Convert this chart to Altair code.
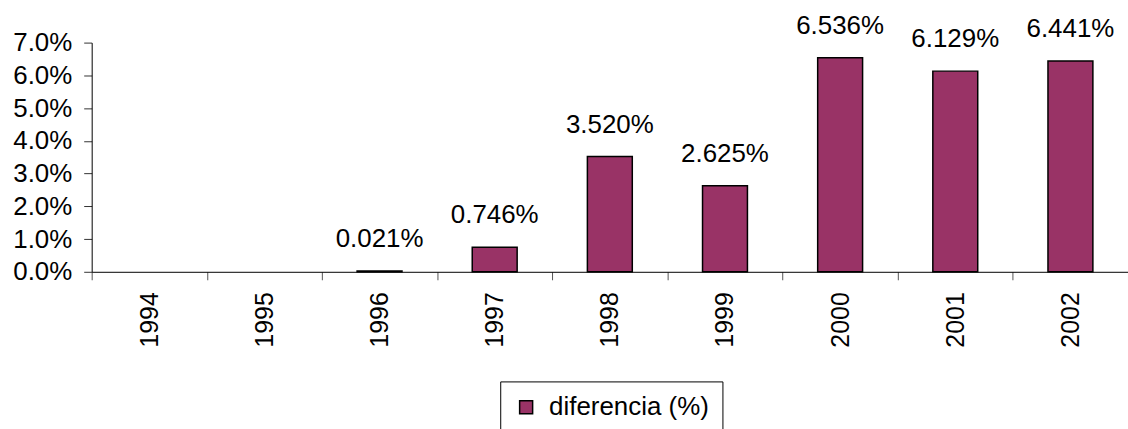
import altair as alt
import pandas as pd

years = ["1994", "1995", "1996", "1997", "1998", "1999", "2000", "2001", "2002"]
values = [None, None, 0.00021, 0.00746, 0.03520, 0.02625, 0.06536, 0.06129, 0.06441]
series = "diferencia (%)"
y_ticks = [0.0, 0.01, 0.02, 0.03, 0.04, 0.05, 0.06, 0.07]

df = pd.DataFrame({"year": years, "value": values, "serie": [series] * len(years)})

FONT = "Liberation Sans"

x_enc = alt.X(
    "year:N",
    scale=alt.Scale(domain=years, paddingInner=0, paddingOuter=0),
    axis=alt.Axis(
        title=None, labelAngle=270, labelFontSize=25, labelFont=FONT, labelColor="black",
        tickBand="extent", tickSize=8, tickColor="#555555", domainColor="black",
        labelPadding=12, grid=False, labelOverlap=False,
    ),
)
y_enc = alt.Y(
    "value:Q",
    scale=alt.Scale(domain=[0, 0.07], nice=False),
    axis=alt.Axis(
        title=None, values=y_ticks, format=".1%", labelFontSize=26, labelFont=FONT,
        labelColor="black", tickSize=8, tickColor="#333333", domainColor="black",
        labelPadding=12, grid=False, labelOverlap=False, labelFlush=False,
    ),
)

base = alt.Chart(df).transform_filter("isValid(datum.value)").encode(x=x_enc, y=y_enc)

bars = base.mark_bar(
    width=alt.RelativeBandSize(0.39), stroke="black", strokeWidth=1.5
).encode(
    color=alt.Color(
        "serie:N",
        scale=alt.Scale(domain=[series], range=["#993366"]),
        legend=alt.Legend(
            title=None, orient="none", legendX=410, legendY=340,
            labelFontSize=26, labelFont=FONT, labelColor="black", labelLimit=0,
            symbolType="square", symbolSize=170, symbolStrokeColor="black",
            symbolStrokeWidth=1.5, strokeColor="black", padding=13,
            labelOffset=10, fillColor="white",
        ),
    ),
)

labels = base.mark_text(
    baseline="alphabetic", dy=-24, fontSize=26, font=FONT, color="black"
).encode(
    text=alt.Text("value:Q", format=".3%"),
)

chart = (
    alt.layer(bars, labels)
    .properties(
        width=1040, height=230,
        autosize=alt.AutoSizeParams(type="none"),
        padding={"left": 92, "top": 42, "right": 0, "bottom": 157},
    )
    .configure(background="white")
    .configure_view(stroke=None, strokeWidth=0)
    .configure_axis(labelOverlap=False, grid=False)
)

chart.save("out.html", embed_options={"renderer": "svg", "actions": False})
